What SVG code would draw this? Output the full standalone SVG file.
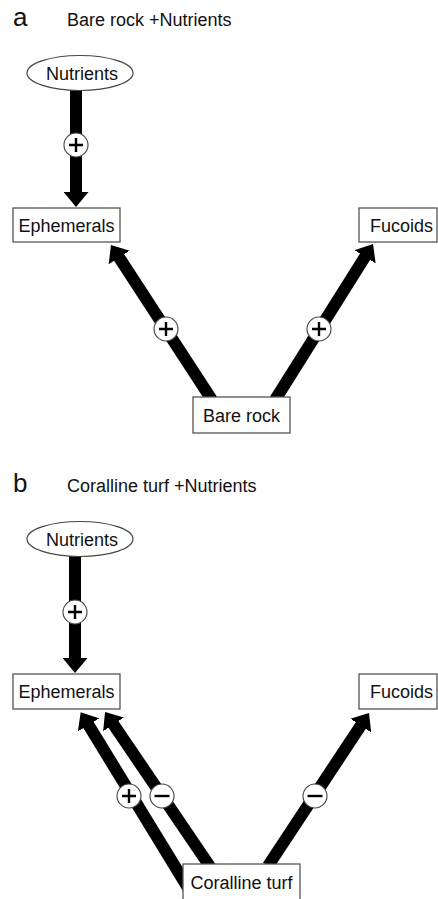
<svg xmlns="http://www.w3.org/2000/svg" width="438" height="899" viewBox="0 0 438 899">
<style>
text{font-family:"Liberation Sans",Arial,sans-serif;fill:#111}
.lbl{font-size:18px}
.big{font-size:26px}
.mid{text-anchor:middle}
.box{fill:#fff;stroke:#555;stroke-width:1.3}
.ell{fill:#fff;stroke:#444;stroke-width:1.2}
.shaft{stroke:#000;stroke-width:12;fill:none;marker-end:url(#ah)}
.sign{fill:#fff;stroke:#444;stroke-width:1.1}
.mark{stroke:#000;stroke-width:2.4;fill:none}
</style>
<defs>
<marker id="ah" markerUnits="userSpaceOnUse" viewBox="0 0 15 25" markerWidth="15" markerHeight="25" refX="1" refY="12.5" orient="auto">
<path d="M0,0 L15,12.5 L0,25 Z" fill="#000"/>
</marker>
</defs>
<rect width="438" height="899" fill="#fff"/>
<text class="big" x="13" y="26">a</text>
<text class="lbl" x="67" y="26">Bare rock +Nutrients</text>
<text class="big" x="13" y="492">b</text>
<text class="lbl" x="67" y="492">Coralline turf +Nutrients</text>
<g id="connectors">
<line class="shaft" x1="76" y1="88" x2="76" y2="193"/>
<line class="shaft" x1="212" y1="400" x2="118.6" y2="256.7"/>
<line class="shaft" x1="275" y1="400" x2="365.6" y2="255.9"/>
<line class="shaft" x1="75" y1="554" x2="75" y2="659"/>
<line class="shaft" x1="190" y1="891" x2="88" y2="724.1"/>
<line class="shaft" x1="211" y1="868" x2="112.9" y2="723.6"/>
<line class="shaft" x1="268" y1="866" x2="361.3" y2="724.7"/>
<g id="sign-a1"><circle class="sign" cx="76" cy="145" r="12"/><path class="mark" d="M69,145 H83 M76,138 V152"/></g>
<g id="sign-a2"><circle class="sign" cx="166" cy="329" r="12"/><path class="mark" d="M159,329 H173 M166,322 V336"/></g>
<g id="sign-a3"><circle class="sign" cx="319" cy="329" r="12"/><path class="mark" d="M312,329 H326 M319,322 V336"/></g>
<g id="sign-b1"><circle class="sign" cx="75" cy="612" r="12"/><path class="mark" d="M68,612 H82 M75,605 V619"/></g>
<g id="sign-b2"><circle class="sign" cx="129" cy="796" r="12"/><path class="mark" d="M122,796 H136 M129,789 V803"/></g>
<g id="sign-b3"><circle class="sign" cx="162" cy="796" r="12"/><path class="mark" d="M154.5,796 H169.5"/></g>
<g id="sign-b4"><circle class="sign" cx="315" cy="796" r="12"/><path class="mark" d="M307.5,796 H322.5"/></g>
</g>
<g id="nutrients-a"><ellipse class="ell" cx="80" cy="73" rx="53" ry="17.5"/><text class="lbl mid" x="82" y="79.5">Nutrients</text></g>
<g id="ephemerals-a"><rect class="box" x="13" y="208" width="107" height="34"/><text class="lbl mid" x="66.5" y="231.5">Ephemerals</text></g>
<g id="fucoids-a"><rect class="box" x="359" y="208" width="78" height="34"/><text class="lbl" x="370" y="231.5">Fucoids</text></g>
<g id="barerock-a"><rect class="box" x="193" y="397" width="97" height="36"/><text class="lbl mid" x="241.5" y="421.5">Bare rock</text></g>
<g id="nutrients-b"><ellipse class="ell" cx="80" cy="539" rx="53" ry="17.5"/><text class="lbl mid" x="82" y="545.5">Nutrients</text></g>
<g id="ephemerals-b"><rect class="box" x="13" y="674" width="107" height="35"/><text class="lbl mid" x="66.5" y="697.5">Ephemerals</text></g>
<g id="fucoids-b"><rect class="box" x="359" y="674" width="78" height="35"/><text class="lbl" x="370" y="697.5">Fucoids</text></g>
<g id="corallineturf-b"><rect class="box" x="183" y="864" width="117" height="37"/><text class="lbl mid" x="241.5" y="888.5">Coralline turf</text></g>
</svg>
